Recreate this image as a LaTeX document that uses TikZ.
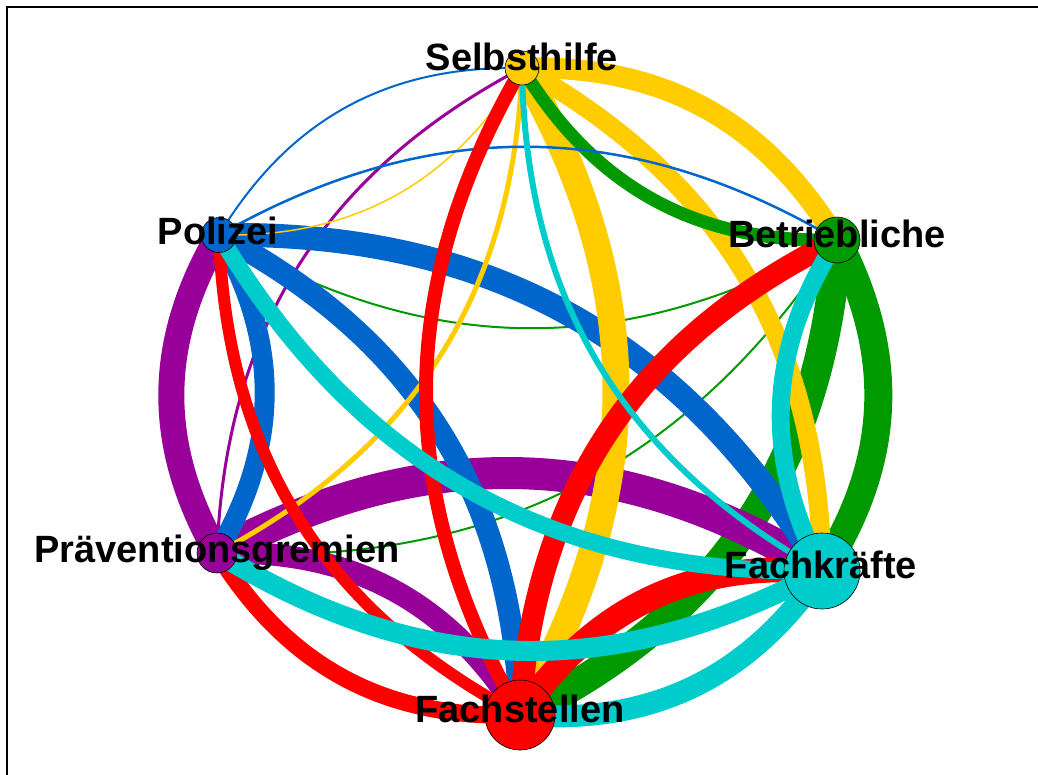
\documentclass[tikz,border=0pt]{standalone}
\usepackage{fontspec}
\setmainfont{Liberation Sans}
\usetikzlibrary{backgrounds}
\definecolor{cY}{HTML}{FFCC00}
\definecolor{cG}{HTML}{009900}
\definecolor{cC}{HTML}{00CCCC}
\definecolor{cR}{HTML}{FF0000}
\definecolor{cP}{HTML}{990099}
\definecolor{cB}{HTML}{0066CC}
\begin{document}
\begin{tikzpicture}[x=1pt,y=-1pt,
  vtx/.style={circle,draw=black,line width=0.6pt,inner sep=0pt,minimum size=#1},
  lbl/.style={font=\fontsize{38}{40}\selectfont\bfseries,anchor=base,inner sep=0pt},
  lnk/.style={line width=#1,bend left=30}]
\useasboundingbox (0,0) rectangle (1038,774);
\draw[line width=2pt] (7,775) -- (7,7) -- (1039,7);
% vertices
\node[vtx=34pt,fill=cY] (S) at (522,68) {};
\node[vtx=46pt,fill=cG] (B) at (837,240) {};
\node[vtx=76pt,fill=cC] (K) at (822,571) {};
\node[vtx=70pt,fill=cR] (F) at (520,715) {};
\node[vtx=40pt,fill=cP] (P) at (217,553) {};
\node[vtx=35pt,fill=cB] (Z) at (219,235) {};
\begin{scope}[on background layer]
% green (Betriebliche)
\draw[cG,lnk=2pt] (B.center) to (Z.center);
\draw[cG,lnk=2pt] (B.center) to (P.center);
\draw[cG,lnk=28pt] (B.center) to (K.center);
\draw[cG,lnk=30pt] (B.center) to (F.center);
% purple (Praeventionsgremien)
\draw[cP,lnk=3pt] (P.center) to (S.center);
\draw[cP,lnk=26pt] (P.center) to (Z.center);
\draw[cP,lnk=32pt] (P.center) to (K.center);
\draw[cP,lnk=22pt] (P.center) to (F.center);
% blue (Polizei)
\draw[cB,lnk=2pt] (Z.center) to (S.center);
\draw[cB,lnk=20pt] (Z.center) to (P.center);
\draw[cB,lnk=22pt] (Z.center) to (F.center);
\draw[cB,lnk=24pt] (Z.center) to (K.center);
% yellow (Selbsthilfe)
\draw[cY,lnk=1.5pt] (S.center) to (Z.center);
\draw[cY,lnk=5pt] (S.center) to (P.center);
\draw[cY,lnk=21pt] (S.center) to (B.center);
\draw[cY,lnk=27pt] (S.center) to (F.center);
\draw[cY,lnk=19pt] (S.center) to (K.center);
\draw[cG,lnk=13pt] (B.center) to (S.center);
\draw[cB,lnk=2.5pt] (Z.center) to (B.center);
% red (Fachstellen)
\draw[cR,lnk=14pt] (F.center) to (S.center);
\draw[cR,lnk=12pt] (F.center) to (Z.center);
\draw[cR,lnk=17pt] (F.center) to (P.center);
\draw[cR,lnk=22pt] (F.center) to (B.center);
\draw[cR,lnk=25pt] (F.center) to (K.center);
% cyan (Fachkraefte)
\draw[cC,lnk=6pt] (K.center) to (S.center);
\draw[cC,lnk=18pt] (K.center) to (B.center);
\draw[cC,lnk=20pt] (K.center) to (P.center);
\draw[cC,lnk=22pt] (K.center) to (F.center);
\draw[cC,lnk=17pt] (K.center) to (Z.center);
\end{scope}
% labels
\node[lbl] (tS) at (522,70) {Selbsthilfe};
\node[lbl] (tB) at (837,247) {Betriebliche};
\node[lbl] (tK) at (821,578) {Fachkräfte};
\node[lbl] (tF) at (520,722) {Fachstellen};
\node[lbl] (tP) at (217,562) {Präventionsgremien};
\node[lbl] (tZ) at (218,244) {Polizei};
\end{tikzpicture}
\end{document}
